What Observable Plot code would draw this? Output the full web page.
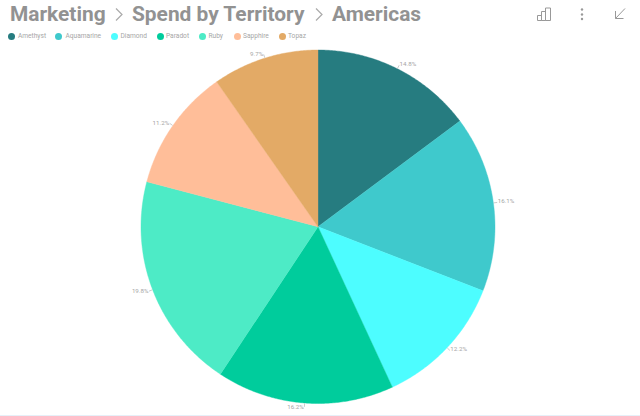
<!DOCTYPE html>
<html><head><meta charset="utf-8">
<script src="https://cdn.jsdelivr.net/npm/d3@7"></script>
<script src="https://cdn.jsdelivr.net/npm/@observablehq/plot@0.6"></script>
<style>
html,body{margin:0;padding:0;background:#fff;overflow:hidden}
#page{position:relative;width:640px;height:416px;font-family:Roboto,sans-serif}
#page .t{position:absolute;top:-1px;font-size:20.9px;font-weight:700;color:#929292;line-height:30px;white-space:nowrap}
#page .l{position:absolute;top:32px;font-size:6.6px;color:#a6a6a6;line-height:9px;white-space:nowrap}
#page .d{position:absolute;top:33px;width:7px;height:7px;border-radius:50%}
#chart{position:absolute;left:0;top:44px}
#icons{position:absolute;left:0;top:0}
#edge{position:absolute;left:0;top:415px;width:640px;height:1px;background:#e6f0f8}
</style></head><body>
<div id="page">
<span class="t" style="left:10px">Marketing</span>
<span class="t" style="left:132px">Spend by Territory</span>
<span class="t" style="left:332px">Americas</span>
<svg id="icons" width="640" height="30" fill="none" stroke="#999">
<path d="M116 8.500l6 6-6 6M316 8.500l6 6-6 6" stroke="#aaa" stroke-width="1.200"/>
<path d="M537.500 20.500v-5h4v5zM541.500 20.500v-9h4v9zM545.500 20.500v-12.500h5v12.500z" stroke-width="1"/>
<g fill="#999" stroke="none"><circle cx="582" cy="9.500" r="1.200"/><circle cx="582" cy="14.500" r="1.200"/><circle cx="582" cy="19" r="1.200"/></g>
<path d="M625 8.500L615.500 18.500M615.500 11v7.500h8" stroke-width="1"/>
</svg>
<div id="legend"></div>
<div id="chart"></div>
<div id="edge"></div>
</div>
<script>
const categories = ["Amethyst","Aquamarine","Diamond","Paradot","Ruby","Sapphire","Topaz"];
const shares = [14.8,16.1,12.2,16.2,19.8,11.2,9.7];
const colors = ["#267c80","#3fc9cc","#4dfdff","#00cc9c","#4debc6","#ffbe99","#e3aa66"];
const legendDotX = [8,55,111,157,199,234,279];
const legendTextX = [18,65.5,120.5,166,208.5,243,288];

const legend = document.getElementById("legend");
categories.forEach((c,i)=>{
  legend.insertAdjacentHTML("beforeend",
   `<span class="d" style="left:${legendDotX[i]}px;background:${colors[i]}"></span><span class="l" style="left:${legendTextX[i]}px">${c}</span>`);
});

const arcs = d3.pie().sort(null).value(d=>d)(shares);
const polar = (a,r)=>({x:r*Math.sin(a),y:r*Math.cos(a)});
const wedges = arcs.flatMap((arc,i)=>{
  const n = Math.ceil((arc.endAngle-arc.startAngle)/(Math.PI/360));
  const pts = [{x:0,y:0,category:categories[i]}];
  for(let k=0;k<=n;k++){
    const a = arc.startAngle+(arc.endAngle-arc.startAngle)*k/n;
    pts.push({...polar(a,1),category:categories[i]});
  }
  pts.push({x:0,y:0,category:categories[i]});
  return pts;
});
const labels = arcs.map((arc,i)=>{
  const a=(arc.startAngle+arc.endAngle)/2;
  const p0=polar(a,1.002), p1=polar(a,1.022);
  return {x1:p0.x,y1:p0.y,x2:p1.x,y2:p1.y,text:shares[i].toFixed(1)+"%",right:p1.x>=0};
});

const chart = Plot.plot({
  width:640,height:371,margin:0,
  style:{background:"transparent",overflow:"visible"},
  x:{axis:null,domain:[-1,1],range:[140.5,494.5]},
  y:{axis:null,domain:[-1,1],range:[359,5.5]},
  color:{domain:categories,range:colors},
  marks:[
    Plot.line(wedges,{x:"x",y:"y",z:"category",fill:"category",stroke:"category",strokeWidth:0.4,curve:"linear"}),
    Plot.link(labels,{x1:"x1",y1:"y1",x2:"x2",y2:"y2",stroke:"#b5b5b5",strokeWidth:0.7}),
    Plot.text(labels.filter(d=>d.right),{x:"x2",y:"y2",text:"text",textAnchor:"start",dx:0.5,dy:-1,fontSize:6.2,fill:"#a6a6a6",fontFamily:"Roboto"}),
    Plot.text(labels.filter(d=>!d.right),{x:"x2",y:"y2",text:"text",textAnchor:"end",dx:-0.5,dy:0,fontSize:6.2,fill:"#a6a6a6",fontFamily:"Roboto"})
  ]
});
document.getElementById("chart").append(chart);
</script>
</body></html>
